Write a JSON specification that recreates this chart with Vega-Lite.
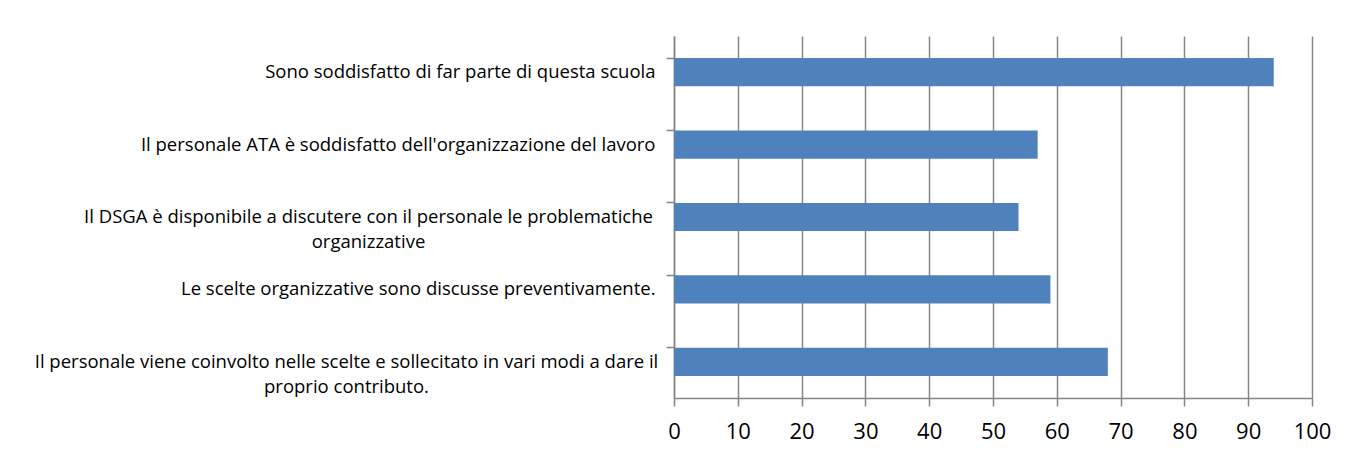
{
  "$schema": "https://vega.github.io/schema/vega-lite/v6.json",
  "width": 638,
  "height": 362,
  "autosize": {"type": "none"},
  "padding": {"left": 674, "top": 36, "right": 54, "bottom": 68},
  "background": "white",
  "config": {"view": {"stroke": null}, "font": "Open Sans"},
  "data": {"values": [
    {"item": "Sono soddisfatto di far parte di questa scuola", "value": 94},
    {"item": "Il personale ATA è soddisfatto dell'organizzazione del lavoro", "value": 57},
    {"item": "Il DSGA è disponibile a discutere con il personale le problematiche organizzative", "value": 54},
    {"item": "Le scelte organizzative sono discusse preventivamente.", "value": 59},
    {"item": "Il personale viene coinvolto nelle scelte e sollecitato in vari modi a dare il proprio contributo.", "value": 68}
  ]},
  "layer": [
    {
      "mark": {"type": "bar", "color": "#4F81BD"},
      "encoding": {
        "y": {"field": "item", "type": "nominal", "sort": null,
          "scale": {"paddingInner": 0.61, "paddingOuter": 0.305},
          "axis": {"title": null, "orient": "left", "ticks": false, "domain": false, "grid": false,
            "labelFont": "Open Sans", "labelFontSize": 18.5, "labelColor": "#000000", "labelLimit": 700,
            "labelLineHeight": 25,
            "labelAlign": {"condition": {"test": "indexof(datum.value,'DSGA')>=0 || indexof(datum.value,'coinvolto')>=0", "value": "center"}, "value": "right"},
            "labelPadding": {"condition": [
              {"test": "indexof(datum.value,'DSGA')>=0", "value": 306},
              {"test": "indexof(datum.value,'coinvolto')>=0", "value": 328}], "value": 19},
            "labelExpr": "indexof(datum.value,'DSGA')>=0 ? ['Il DSGA è disponibile a discutere con il personale le problematiche','organizzative'] : indexof(datum.value,'coinvolto')>=0 ? ['Il personale viene coinvolto nelle scelte e sollecitato in vari modi a dare il','proprio contributo.'] : datum.value"
          }},
        "x": {"field": "value", "type": "quantitative",
          "scale": {"domain": [0, 100], "nice": false},
          "axis": {"title": null, "values": [0,10,20,30,40,50,60,70,80,90,100],
            "grid": true, "gridColor": "#868686", "gridWidth": 1.5, "gridOpacity": 1,
            "domainColor": "#868686", "domainWidth": 1.5,
            "tickColor": "#868686", "tickWidth": 1.5, "tickSize": 8,
            "labelFont": "Open Sans", "labelFontSize": 22, "labelColor": "#000000", "labelPadding": 15, "labelFlush": false}}
      }
    },
    {
      "mark": {"type": "bar", "opacity": 0},
      "encoding": {
        "y": {"field": "item", "type": "nominal", "sort": null,
          "axis": {"title": null, "orient": "left", "labels": false, "bandPosition": 0, "ticks": true, "tickSize": 8,
            "tickColor": "#868686", "tickWidth": 1.5, "domainColor": "#868686", "domainWidth": 1.5, "grid": false}},
        "x": {"field": "value", "type": "quantitative"}
      }
    }
  ],
  "resolve": {"axis": {"y": "independent"}}
}
